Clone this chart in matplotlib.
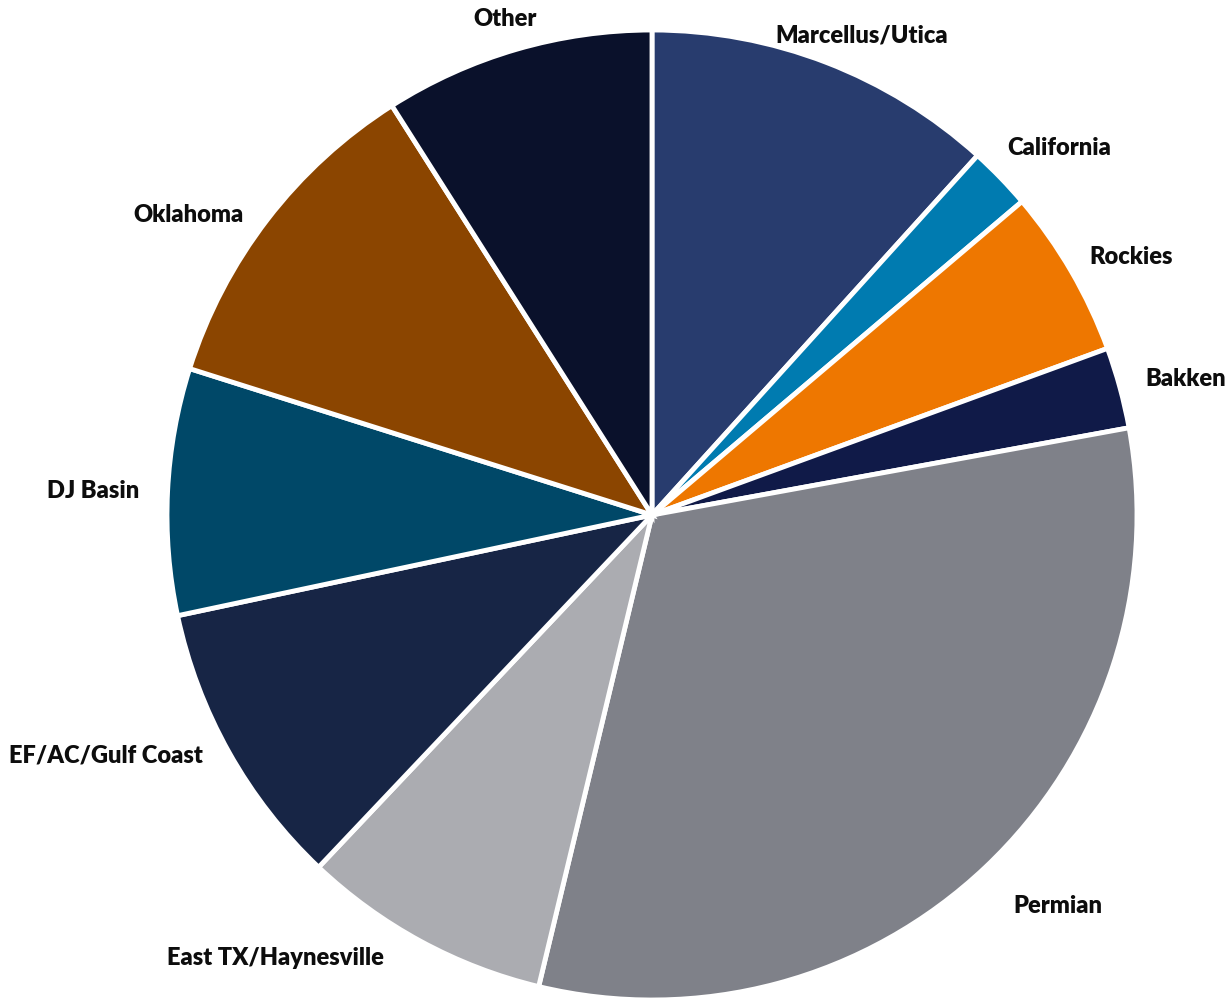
import numpy as np
import matplotlib.pyplot as plt

# Share of activity by basin, clockwise from 12 o'clock
basins = ["Marcellus/Utica", "California", "Rockies", "Bakken", "Permian",
          "East TX/Haynesville", "EF/AC/Gulf Coast", "DJ Basin", "Oklahoma", "Other"]
shares = [11.7, 2.1, 5.6, 2.7, 31.6, 8.3, 9.6, 8.2, 11.1, 9.0]
colors = ["#283C6E", "#007BB0", "#EE7700", "#101A48", "#7F8189",
          "#ABACB1", "#172545", "#004868", "#8B4500", "#0A112B"]
# label centres as fractions of the figure (x from left, y from top)
label_pos = [(0.701, 0.036), (0.862, 0.148), (0.920, 0.257), (0.965, 0.379),
             (0.861, 0.907), (0.224, 0.959), (0.086, 0.756), (0.076, 0.491),
             (0.153, 0.215), (0.411, 0.019)]

fig = plt.figure(figsize=(12.29, 9.99), dpi=100)
ax = fig.add_axes([0, 0, 1, 1])

wedges, _ = ax.pie(shares, colors=colors, startangle=90, counterclock=False,
                   radius=1.0, wedgeprops=dict(edgecolor="white", linewidth=3.5))

for name, (fx, fy) in zip(basins, label_pos):
    fig.text(fx, 1 - fy, name, ha="center", va="center",
             fontsize=17, fontweight="heavy", family=["Lato", "DejaVu Sans"],
             color="#0D0D0D")

ax.set_xlim(-652 / 485, (1229 - 652) / 485)
ax.set_ylim(-484 / 485, 515 / 485)
ax.set_aspect("auto")
ax.axis("off")

fig.savefig("out.png", dpi=100, facecolor="white")
